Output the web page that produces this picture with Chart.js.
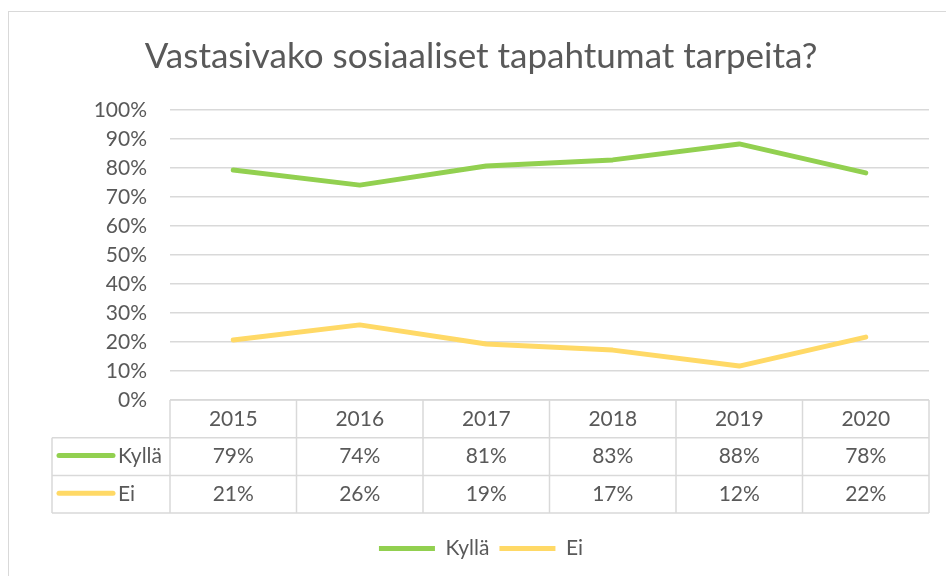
<!DOCTYPE html>
<html>
<head>
<meta charset="utf-8">
<script src="https://cdn.jsdelivr.net/npm/chart.js@4.4.1/dist/chart.umd.min.js"></script>
<style>
    html, body { margin: 0; padding: 0; background: #fff; }
    #wrap { width: 946px; height: 576px; }
</style>
</head>
<body>
<div id="wrap"><canvas id="chart" width="946" height="576"></canvas></div>
<script>
const years = ['2015', '2016', '2017', '2018', '2019', '2020'];
const kylla = [79.3, 74.1, 80.7, 82.8, 88.3, 78.3];
const ei = [20.7, 25.9, 19.3, 17.2, 11.7, 21.7];

const textColor = '#595959';
const lineGray = '#d9d9d9';
const green = '#92d050';
const yellow = '#ffd966';
Chart.defaults.font.family = 'Lato, "Open Sans", sans-serif';
Chart.defaults.color = textColor;

// frame around the whole chart
const framePlugin = {
    id: 'frame',
    beforeDraw(chart) {
        const ctx = chart.ctx;
        ctx.save();
        ctx.fillStyle = '#fff';
        ctx.fillRect(0, 0, chart.width, chart.height);
        ctx.strokeStyle = lineGray;
        ctx.lineWidth = 1;
        ctx.strokeRect(8.5, 11.5, chart.width, chart.height);
        ctx.restore();
    }
};

// data table under the plot, columns follow the x scale
const tablePlugin = {
    id: 'dataTable',
    afterDraw(chart) {
        const ctx = chart.ctx;
        const xs = chart.scales.x;
        const area = chart.chartArea;
        const half = area.width / years.length / 2;
        const rowH = 37.7;
        const top = area.bottom;
        const legLeft = 52;
        const rows = [
            {label: 'Kyllä', color: green, values: kylla},
            {label: 'Ei', color: yellow, values: ei}
        ];
        ctx.save();
        ctx.strokeStyle = lineGray;
        ctx.lineWidth = 1.5;
        ctx.beginPath();
        // horizontal lines
        ctx.moveTo(area.left, top); ctx.lineTo(area.right, top);
        for (let r = 1; r <= 3; r++) {
            const y = top + rowH * r;
            ctx.moveTo(legLeft, y); ctx.lineTo(area.right, y);
        }
        // vertical lines
        ctx.moveTo(legLeft, top + rowH); ctx.lineTo(legLeft, top + rowH * 3);
        for (let i = 0; i <= years.length; i++) {
            const x = i < years.length ? xs.getPixelForValue(i) - half : xs.getPixelForValue(i - 1) + half;
            ctx.moveTo(x, top); ctx.lineTo(x, top + rowH * 3);
        }
        ctx.stroke();

        ctx.fillStyle = textColor;
        ctx.font = '21px Lato, "Open Sans", sans-serif';
        ctx.textBaseline = 'middle';
        ctx.textAlign = 'center';
        years.forEach((yr, i) => {
            ctx.fillText(yr, xs.getPixelForValue(i), top + rowH * 0.5);
        });
        rows.forEach((row, r) => {
            const cy = top + rowH * (r + 1.5);
            row.values.forEach((v, i) => {
                ctx.fillText(Math.round(v) + '%', xs.getPixelForValue(i), cy);
            });
            // legend key
            ctx.strokeStyle = row.color;
            ctx.lineWidth = 5;
            ctx.lineCap = 'round';
            ctx.beginPath();
            ctx.moveTo(legLeft + 7, cy - 1);
            ctx.lineTo(legLeft + 61, cy - 1);
            ctx.stroke();
            ctx.textAlign = 'left';
            ctx.fillText(row.label, legLeft + 66, cy);
            ctx.textAlign = 'center';
        });
        ctx.restore();
    }
};

new Chart(document.getElementById('chart'), {
    type: 'line',
    data: {
        labels: years,
        datasets: [
            {
                label: 'Kyllä',
                data: kylla,
                borderColor: green,
                backgroundColor: green,
                borderWidth: 5,
                borderCapStyle: 'round',
                borderJoinStyle: 'round',
                pointRadius: 0,
                tension: 0
            },
            {
                label: 'Ei',
                data: ei,
                borderColor: yellow,
                backgroundColor: yellow,
                borderWidth: 5,
                borderCapStyle: 'round',
                borderJoinStyle: 'round',
                pointRadius: 0,
                tension: 0
            }
        ]
    },
    options: {
        responsive: false,
        animation: false,
        layout: { padding: { left: 33, right: 17, top: 0, bottom: 7 } },
        plugins: {
            title: {
                display: true,
                text: 'Vastasivako sosiaaliset tapahtumat tarpeita?',
                color: textColor,
                font: { size: 35, weight: 'normal' },
                padding: { top: 36, bottom: 32 }
            },
            legend: {
                position: 'bottom',
                labels: {
                    usePointStyle: true,
                    pointStyle: 'line',
                    pointStyleWidth: 56,
                    boxHeight: 20,
                    padding: 10,
                    color: textColor,
                    font: { size: 21 }
                }
            },
            tooltip: { enabled: false }
        },
        scales: {
            x: {
                type: 'category',
                offset: true,
                grid: { display: false },
                border: { display: false },
                ticks: { display: false },
                afterFit(scale) { scale.height = 128; }
            },
            y: {
                min: 0,
                max: 100,
                ticks: {
                    stepSize: 10,
                    padding: 23,
                    font: { size: 21 },
                    color: textColor,
                    callback: v => v + '%'
                },
                grid: { color: lineGray, lineWidth: 1.5, drawTicks: false },
                border: { display: false },
                afterFit(scale) { scale.width = 137; }
            }
        }
    },
    plugins: [framePlugin, tablePlugin]
});
</script>
</body>
</html>
